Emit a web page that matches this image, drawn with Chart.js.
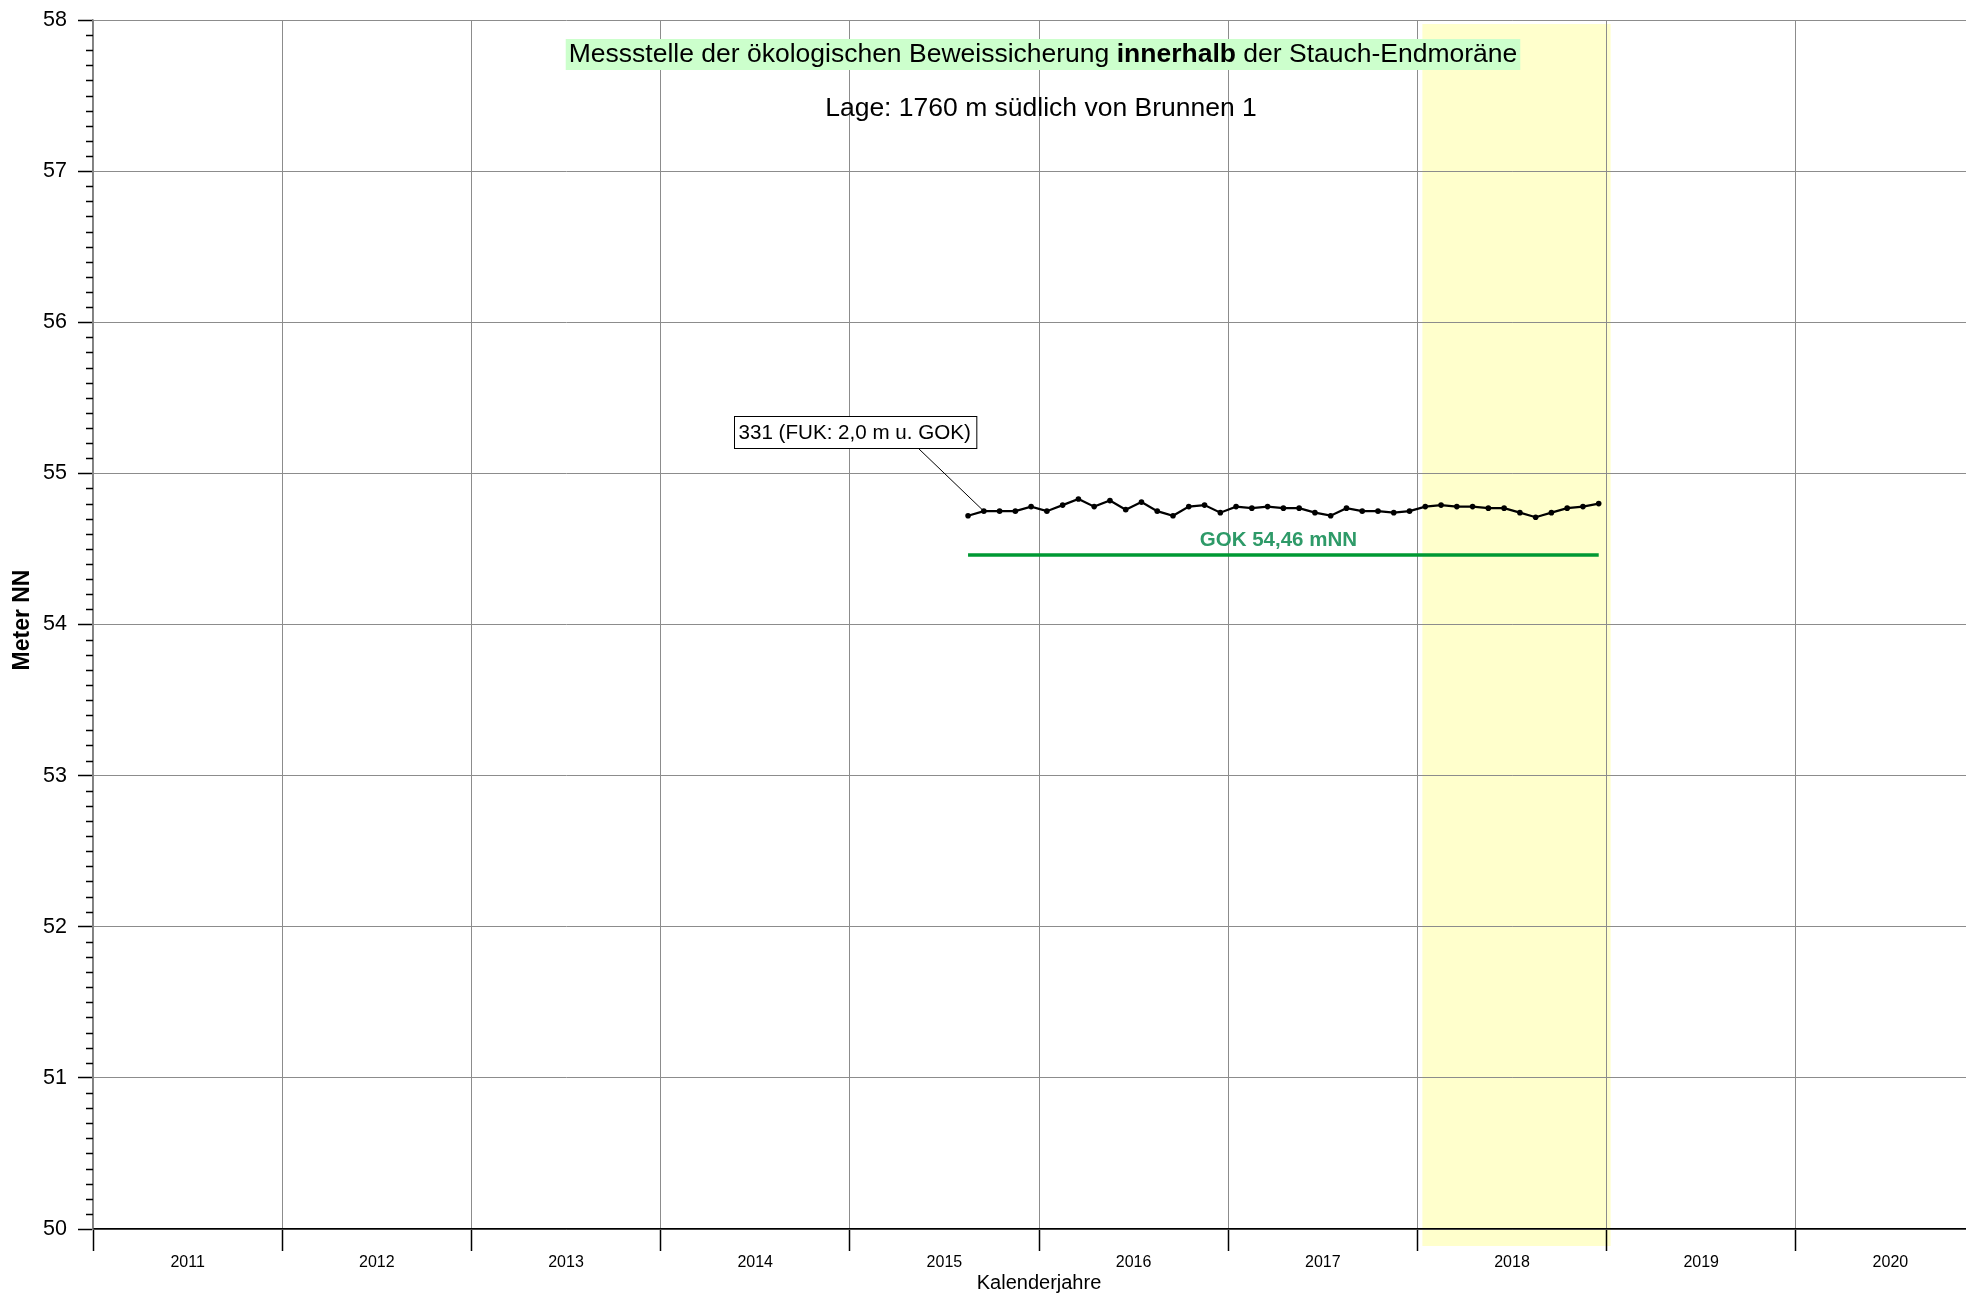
<!DOCTYPE html>
<html lang="de">
<head>
<meta charset="utf-8">
<title>Messstelle 331</title>
<script src="https://cdn.jsdelivr.net/npm/chart.js@4.4.1/dist/chart.umd.min.js"></script>
<style>
html,body{margin:0;padding:0;background:#fff;overflow:hidden}
#wrap{width:2000px;height:1295px;position:relative}
</style>
</head>
<body>
<div id="wrap"><canvas id="ch"></canvas></div>
<script>
// Monatliche Wasserstände Messstelle 331 (m NN)
const months = [
  '2015-08','2015-09','2015-10','2015-11','2015-12',
  '2016-01','2016-02','2016-03','2016-04','2016-05','2016-06','2016-07','2016-08','2016-09','2016-10','2016-11','2016-12',
  '2017-01','2017-02','2017-03','2017-04','2017-05','2017-06','2017-07','2017-08','2017-09','2017-10','2017-11','2017-12',
  '2018-01','2018-02','2018-03','2018-04','2018-05','2018-06','2018-07','2018-08','2018-09','2018-10','2018-11','2018-12'
];
const levels = [
  54.72, 54.75, 54.75, 54.75, 54.78,
  54.75, 54.79, 54.83, 54.78, 54.82, 54.76, 54.81, 54.75, 54.72, 54.78, 54.79, 54.74,
  54.78, 54.77, 54.78, 54.77, 54.77, 54.74, 54.72, 54.77, 54.75, 54.75, 54.74, 54.75,
  54.78, 54.79, 54.78, 54.78, 54.77, 54.77, 54.74, 54.71, 54.74, 54.77, 54.78, 54.80
];
const gokLevel = 54.46;
const yearLabels = ['2011','2012','2013','2014','2015','2016','2017','2018','2019','2020'];
const highlightYear = 2018;

const titleParts = ['Messstelle der ökologischen Beweissicherung ', 'innerhalb', ' der Stauch-Endmoräne'];
const subtitle = 'Lage: 1760 m südlich von Brunnen 1';
const gokLabel = 'GOK 54,46 mNN';
const wellLabel = '331 (FUK: 2,0 m u. GOK)';
const yTitle = 'Meter NN';

const FONT = "'Liberation Sans', Arial, sans-serif";
Chart.defaults.font.family = FONT;
Chart.defaults.color = '#000';

// Monatsmitte als Dezimaljahr
const toYear = m => { const [y, mo] = m.split('-').map(Number); return y + (mo - 0.5) / 12; };
const pts = months.map((m, i) => ({ x: toYear(m), y: levels[i] }));
const firstX = pts[0].x, lastX = pts[pts.length - 1].x;

// Jahresgrenzen + Jahresmitten (Mitten tragen die Beschriftung)
const xTicks = [];
yearLabels.forEach(y => xTicks.push(+y, +y + 0.5));
xTicks.push(+yearLabels[yearLabels.length - 1] + 1);

const isBoundary = c => c.tick && Math.abs(c.tick.value % 1) < 1e-6;

const bgPlugin = {
  id: 'bg',
  beforeDraw(chart) {
    const { ctx, chartArea: a, scales: { x } } = chart;
    ctx.save();
    ctx.fillStyle = '#fff';
    ctx.fillRect(0, 0, chart.width, chart.height);
    const x0 = x.getPixelForValue(highlightYear) + 5;
    const x1 = x.getPixelForValue(highlightYear + 1) + 4;
    ctx.fillStyle = '#ffffcc';
    ctx.fillRect(x0, a.top + 4, x1 - x0, a.bottom + 17 - (a.top + 4));
    ctx.restore();
  }
};

const decoPlugin = {
  id: 'deco',
  afterDraw(chart) {
    const { ctx, scales: { x, y } } = chart;
    ctx.save();

    // kleine Striche alle 0,1 m
    ctx.strokeStyle = '#000';
    ctx.lineWidth = 1.5;
    ctx.beginPath();
    for (let i = 501; i < 580; i++) {
      if (i % 10 === 0) continue;
      const py = Math.round(y.getPixelForValue(i / 10)) + 0.5;
      ctx.moveTo(y.right - 7, py);
      ctx.lineTo(y.right, py);
    }
    ctx.stroke();

    // Achsentitel links
    ctx.save();
    ctx.translate(23, 620);
    ctx.rotate(-Math.PI / 2);
    ctx.font = `bold 23px ${FONT}`;
    ctx.fillStyle = '#000';
    ctx.textAlign = 'center';
    ctx.textBaseline = 'middle';
    ctx.fillText(yTitle, 0, 0);
    ctx.restore();

    // Überschrift mit grünem Hintergrund
    ctx.textBaseline = 'middle';
    ctx.textAlign = 'left';
    ctx.font = `26.5px ${FONT}`;
    const w1 = ctx.measureText(titleParts[0]).width;
    const w3 = ctx.measureText(titleParts[2]).width;
    ctx.font = `bold 26.5px ${FONT}`;
    const w2 = ctx.measureText(titleParts[1]).width;
    const tw = w1 + w2 + w3;
    const cx = 1043;
    const tx = cx - tw / 2;
    ctx.fillStyle = '#ccffcc';
    ctx.fillRect(tx - 3, 39, tw + 6, 31);
    ctx.fillStyle = '#000';
    ctx.font = `26.5px ${FONT}`;
    ctx.fillText(titleParts[0], tx, 55);
    ctx.font = `bold 26.5px ${FONT}`;
    ctx.fillText(titleParts[1], tx + w1, 55);
    ctx.font = `26.5px ${FONT}`;
    ctx.fillText(titleParts[2], tx + w1 + w2, 55);

    ctx.textAlign = 'center';
    ctx.fillText(subtitle, 1041, 109);

    // GOK-Beschriftung
    ctx.font = `bold 20.5px ${FONT}`;
    ctx.fillStyle = '#2e9a68';
    const gx = (x.getPixelForValue(firstX) + x.getPixelForValue(lastX)) / 2 - 5;
    ctx.fillText(gokLabel, gx, y.getPixelForValue(gokLevel) - 15);

    // Messstellen-Kasten mit Hinweislinie
    ctx.font = `20.6px ${FONT}`;
    const bw = ctx.measureText(wellLabel).width + 10;
    const bx = Math.round(x.getPixelForValue(2014.39)) + 0.5;
    const by = Math.round(y.getPixelForValue(55.378)) + 0.5;
    const bh = 32;
    const p2 = chart.getDatasetMeta(0).data[1];
    ctx.strokeStyle = '#000';
    ctx.lineWidth = 1;
    ctx.beginPath();
    ctx.moveTo(bx + 184, by + bh);
    ctx.lineTo(p2.x, p2.y);
    ctx.stroke();
    ctx.fillStyle = '#fff';
    ctx.fillRect(bx, by, bw, bh);
    ctx.strokeRect(bx, by, bw, bh);
    ctx.fillStyle = '#000';
    ctx.textAlign = 'left';
    ctx.fillText(wellLabel, bx + 4, by + bh / 2 + 1);

    ctx.restore();
  }
};

new Chart(document.getElementById('ch'), {
  type: 'line',
  data: {
    datasets: [
      {
        label: '331',
        data: pts,
        borderColor: '#000',
        borderWidth: 2.2,
        pointRadius: 2.8,
        pointBackgroundColor: '#000',
        pointBorderWidth: 0,
        tension: 0
      },
      {
        label: 'GOK',
        data: [{ x: firstX, y: gokLevel }, { x: lastX, y: gokLevel }],
        borderColor: '#009933',
        borderWidth: 3.5,
        pointRadius: 0
      }
    ]
  },
  options: {
    animation: false,
    responsive: true,
    maintainAspectRatio: false,
    layout: { padding: { top: 20, right: 15, left: 0, bottom: 0 } },
    plugins: { legend: { display: false }, tooltip: { enabled: false } },
    scales: {
      x: {
        type: 'linear',
        min: 2011,
        max: 2021,
        afterBuildTicks: s => { s.ticks = xTicks.map(v => ({ value: v })); },
        afterFit: s => { s.height = 66; s.paddingLeft = 0; s.paddingRight = 0; },
        ticks: {
          autoSkip: false,
          maxRotation: 0,
          padding: 2,
          font: { size: 16 },
          color: '#000',
          callback: v => (Math.abs(v % 1) > 1e-6 ? String(Math.floor(v)) : '')
        },
        grid: {
          color: c => (isBoundary(c) ? '#8c8c8c' : 'rgba(0,0,0,0)'),
          tickColor: c => (isBoundary(c) ? '#000' : 'rgba(0,0,0,0)'),
          tickLength: 22,
          tickWidth: 1.5,
          lineWidth: 1
        },
        border: { color: '#000', width: 1.5 },
        title: { display: true, text: 'Kalenderjahre', font: { size: 20 }, color: '#000', padding: { top: 0, bottom: 0 } }
      },
      y: {
        min: 50,
        max: 58,
        afterFit: s => { s.width = 93; s.paddingTop = 0; s.paddingBottom = 0; },
        ticks: { stepSize: 1, padding: 11, font: { size: 21.5 }, color: '#000' },
        grid: { color: '#8c8c8c', tickColor: '#000', tickLength: 15, tickWidth: 1.5, lineWidth: 1 },
        border: { color: '#808080', width: 1.5 }
      }
    }
  },
  plugins: [bgPlugin, decoPlugin]
});
</script>
</body>
</html>
